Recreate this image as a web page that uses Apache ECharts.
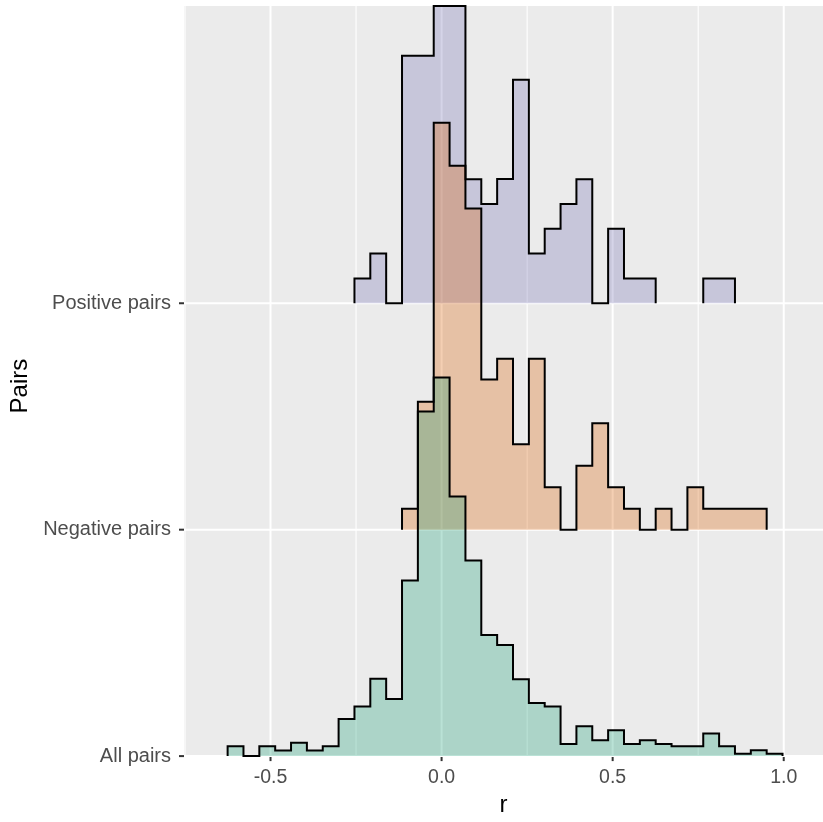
<!DOCTYPE html>
<html><head><meta charset="utf-8">
<script src="https://cdn.jsdelivr.net/npm/echarts@6/dist/echarts.min.js"></script>
<style>html,body{margin:0;padding:0;background:#fff}#c{width:823px;height:822px}</style>
</head><body><div id="c"></div>
<script>
// ---- data ----
const categories = ['All pairs', 'Negative pairs', 'Positive pairs'];
const binStart = -0.6254;   // left edge of first bin (r)
const binWidth = 0.04634;   // bin width (r)
// densities per bin (35 bins), null = bin not drawn
const allPairs = [0.095, 0, 0.095, 0.054, 0.127, 0.054, 0.095, 0.355, 0.476, 0.740,
  0.546, 1.683, 3.302, 3.626, 2.486, 1.873, 1.159, 1.064, 0.736, 0.508,
  0.476, 0.117, 0.286, 0.152, 0.248, 0.117, 0.152, 0.117, 0.095, 0.095,
  0.216, 0.095, 0.022, 0.057, 0.022];
const negativePairs = [null, null, null, null, null, null, null, null, null, null,
  null, 0.200, 1.226, 3.898, 3.486, 3.076, 1.438, 1.638, 0.819, 1.638,
  0.407, 0, 0.612, 1.019, 0.407, 0.200, 0, 0.200, 0, 0.407,
  0.200, 0.200, 0.200, 0.200, null];
const positivePairs = [null, null, null, null, null, null, null, null, 0.238, 0.476,
  0, 2.371, 2.371, 2.848, 2.848, 1.188, 0.952, 1.190, 2.140, 0.476,
  0.714, 0.952, 1.188, 0, 0.714, 0.238, 0.238, null, null, null,
  0.238, 0.238, null, null, null];
const xTicks = [-0.5, 0, 0.5, 1.0];
const xMinorBreaks = [-0.75, -0.25, 0.25, 0.75];
const yTicks = [0, 1, 2];

// ---- style / layout ----
const fills = ['rgba(27,158,119,0.3)', 'rgba(217,95,2,0.3)', 'rgba(117,112,179,0.3)'];
const ridgeScale = 0.461;   // y units per density unit
const xMin = -0.7529, xMax = 1.1148, yMin = 0, yMax = 3.3128;
const FONT = 'Liberation Sans, Arial, Helvetica, sans-serif';
const TICK_LEN = 5;

function gridSeries() {
  return {
    type: 'custom', coordinateSystem: 'cartesian2d', silent: true, z: 1, clip: false,
    data: [[0, 0]],
    renderItem: function (params, api) {
      const ch = [];
      xMinorBreaks.forEach(v => {
        const a = api.coord([v, yMin]), b = api.coord([v, yMax]);
        ch.push({ type: 'line', shape: { x1: a[0], y1: a[1], x2: b[0], y2: b[1] }, style: { stroke: '#FFFFFF', lineWidth: 1.1 } });
      });
      xTicks.forEach(v => {
        const a = api.coord([v, yMin]), b = api.coord([v, yMax]);
        ch.push({ type: 'line', shape: { x1: a[0], y1: a[1], x2: b[0], y2: b[1] }, style: { stroke: '#FFFFFF', lineWidth: 2 } });
        ch.push({ type: 'line', shape: { x1: a[0], y1: a[1], x2: a[0], y2: a[1] + TICK_LEN }, style: { stroke: '#333333', lineWidth: 2 } });
      });
      yTicks.forEach(v => {
        const a = api.coord([xMin, v]), b = api.coord([xMax, v]);
        ch.push({ type: 'line', shape: { x1: a[0], y1: a[1], x2: b[0], y2: b[1] }, style: { stroke: '#FFFFFF', lineWidth: 2 } });
        ch.push({ type: 'line', shape: { x1: a[0] - TICK_LEN, y1: a[1], x2: a[0], y2: a[1] }, style: { stroke: '#333333', lineWidth: 2 } });
      });
      return { type: 'group', children: ch };
    }
  };
}

function ridgeSeries(idx, values) {
  return {
    type: 'custom', coordinateSystem: 'cartesian2d', silent: true, z: 2,
    data: [[binStart, idx]],
    renderItem: function (params, api) {
      const ch = [];
      let seg = [];
      const flush = () => {
        if (!seg.length) return;
        const pts = [];
        const first = seg[0].k, last = seg[seg.length - 1].k;
        pts.push(api.coord([binStart + first * binWidth, idx]));
        seg.forEach(s => {
          const y = idx + s.v * ridgeScale;
          pts.push(api.coord([binStart + s.k * binWidth, y]));
          pts.push(api.coord([binStart + (s.k + 1) * binWidth, y]));
        });
        pts.push(api.coord([binStart + (last + 1) * binWidth, idx]));
        ch.push({ type: 'polygon', shape: { points: pts }, style: { fill: fills[idx], stroke: null } });
        ch.push({ type: 'polyline', shape: { points: pts }, style: { stroke: '#000000', lineWidth: 2, fill: null, lineJoin: 'miter' } });
        seg = [];
      };
      values.forEach((v, k) => { if (v == null) flush(); else seg.push({ k: k, v: v }); });
      flush();
      return { type: 'group', children: ch };
    }
  };
}

const chart = echarts.init(document.getElementById('c'), null, { renderer: 'canvas' });
chart.setOption({
  animation: false,
  backgroundColor: '#FFFFFF',
  grid: { left: 183, right: 0, top: 6, bottom: 61.5, show: true, backgroundColor: '#EBEBEB', borderWidth: 0 },
  xAxis: {
    type: 'value', min: xMin, max: xMax,
    name: 'r', nameLocation: 'middle', nameGap: 34,
    nameTextStyle: { fontFamily: FONT, fontSize: 24, color: '#000000' },
    axisLine: { show: false },
    splitLine: { show: false },
    axisTick: { show: false },
    axisLabel: { customValues: xTicks, margin: 12, fontFamily: FONT, fontSize: 19.5, color: '#4D4D4D',
      formatter: v => v.toFixed(1) }
  },
  yAxis: {
    type: 'value', min: yMin, max: yMax,
    name: 'Pairs', nameLocation: 'middle', nameGap: 152, nameRotate: 90,
    nameTextStyle: { fontFamily: FONT, fontSize: 24, color: '#000000', padding: [0, 10, 0, 0] },
    axisLine: { show: false },
    splitLine: { show: false },
    axisTick: { show: false },
    axisLabel: { customValues: yTicks, margin: 13, fontFamily: FONT, fontSize: 20, color: '#4D4D4D',
      formatter: v => categories[Math.round(v)] }
  },
  series: [
    gridSeries(),
    ridgeSeries(2, positivePairs),
    ridgeSeries(1, negativePairs),
    ridgeSeries(0, allPairs)
  ]
});
</script>
</body></html>
